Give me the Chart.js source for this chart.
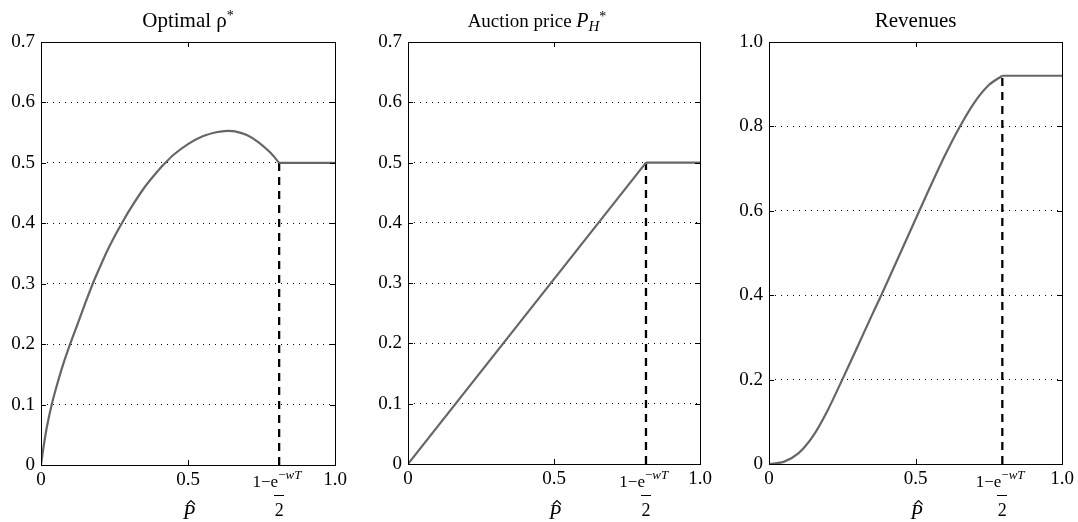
<!DOCTYPE html>
<html>
<head>
<meta charset="utf-8">
<script src="https://cdn.jsdelivr.net/npm/chart.js@4.4.1/dist/chart.umd.min.js"></script>
<style>
body { margin: 0; background: #fff; width: 1078px; height: 522px; position: relative; overflow: hidden; }
canvas { position: absolute; top: 0; }
</style>
</head>
<body>
<canvas id="c1" width="360" height="522" style="left:0px"></canvas>
<canvas id="c2" width="360" height="522" style="left:360px"></canvas>
<canvas id="c3" width="358" height="522" style="left:720px"></canvas>
<script>
// panel 1 - optimal rho*
const rhoX = [0, 0.01, 0.02, 0.0365, 0.05, 0.075, 0.099, 0.125, 0.15, 0.176, 0.2, 0.225, 0.25, 0.275, 0.3, 0.35, 0.4, 0.423, 0.45, 0.5, 0.55, 0.6, 0.634, 0.66, 0.7, 0.74, 0.78, 0.81];
const rhoY = [0, 0.034, 0.063, 0.1, 0.125, 0.166, 0.2, 0.234, 0.267, 0.3, 0.327, 0.354, 0.378, 0.4, 0.421, 0.458, 0.488, 0.5, 0.513, 0.531, 0.544, 0.551, 0.553, 0.552, 0.546, 0.534, 0.517, 0.5];
const rhoKnee = 0.81;
const rhoFlat = 0.5;

// panel 2 - auction price
const priceX = [0, 0.815];
const priceY = [0, 0.5];
const priceKnee = 0.815;
const priceFlat = 0.5;

// panel 3 - revenues
const revX = [0, 0.05, 0.1, 0.15, 0.2, 0.25, 0.3, 0.35, 0.383, 0.45, 0.513, 0.55, 0.6, 0.649, 0.7, 0.75, 0.796];
const revY = [0, 0.005, 0.025, 0.066, 0.127, 0.2, 0.275, 0.351, 0.4, 0.503, 0.6, 0.657, 0.731, 0.797, 0.856, 0.898, 0.92];
const revKnee = 0.796;
const revFlat = 0.92;

const xTicks = [0, 0.5, 1.0];
const yTicksA = [0, 0.1, 0.2, 0.3, 0.4, 0.5, 0.6, 0.7];
const yTicksB = [0, 0.2, 0.4, 0.6, 0.8, 1.0];

const SERIF = '"Liberation Serif", "DejaVu Serif", serif';

function drawRich(ctx, segs, cx, y) {
  let w = 0;
  segs.forEach(s => { ctx.font = s.font; s.w = ctx.measureText(s.t).width; w += s.w; });
  let x = cx - w / 2;
  ctx.textAlign = 'left';
  ctx.textBaseline = 'alphabetic';
  segs.forEach(s => { ctx.font = s.font; ctx.fillText(s.t, x, y + (s.dy || 0)); x += s.w; });
}

function toPts(xs, ys) {
  return xs.map((x, i) => ({ x: x, y: ys[i] }));
}

function makePanel(id, cfg) {
  const deco = {
    id: 'deco',
    afterDraw(chart) {
      const ctx = chart.ctx;
      const a = chart.chartArea;
      const xs = chart.scales.x, ys = chart.scales.y;
      ctx.save();
      ctx.strokeStyle = '#000';
      ctx.fillStyle = '#000';
      ctx.lineWidth = 1;
      ctx.strokeRect(Math.round(a.left) + 0.5, Math.round(a.top) + 0.5, Math.round(a.right - a.left), Math.round(a.bottom - a.top));
      // inward tick marks on all four sides
      ctx.beginPath();
      xTicks.forEach(v => {
        const px = Math.round(xs.getPixelForValue(v)) + 0.5;
        ctx.moveTo(px, a.bottom); ctx.lineTo(px, a.bottom - 5);
        ctx.moveTo(px, a.top); ctx.lineTo(px, a.top + 5);
      });
      cfg.yTicks.forEach(v => {
        const py = Math.round(ys.getPixelForValue(v)) + 0.5;
        ctx.moveTo(a.left, py); ctx.lineTo(a.left + 5, py);
        ctx.moveTo(a.right, py); ctx.lineTo(a.right - 5, py);
      });
      ctx.stroke();

      // title
      drawRich(ctx, cfg.title, (a.left + a.right) / 2 + (cfg.titleShift || 0), 27);

      // x label P hat
      const cx = xs.getPixelForValue(0.5) + 1;
      ctx.font = 'italic 20px ' + SERIF;
      ctx.textAlign = 'center';
      ctx.fillText('P', cx, 519);
      ctx.beginPath();
      ctx.lineWidth = 1.1;
      ctx.moveTo(cx - 2, 504.5); ctx.lineTo(cx + 2, 500.5); ctx.lineTo(cx + 6, 504.5);
      ctx.stroke();

      // knee label (1 - e^{-wT}) / 2
      const kx = xs.getPixelForValue(cfg.knee);
      ctx.font = '17px ' + SERIF;
      ctx.textAlign = 'right';
      ctx.fillText('1\u2212e', kx - 1, 487);
      ctx.textAlign = 'left';
      ctx.font = '13px ' + SERIF;
      ctx.fillText('\u2212', kx - 1, 479);
      const mw = ctx.measureText('\u2212').width;
      ctx.font = 'italic 13px ' + SERIF;
      ctx.fillText('wT', kx - 1 + mw, 479);
      ctx.fillRect(Math.round(kx - 5), 495, 10, 1);
      ctx.font = '18px ' + SERIF;
      ctx.textAlign = 'center';
      ctx.fillText('2', kx, 516);
      ctx.restore();
    }
  };

  const tickFont = { family: SERIF, size: 19 };
  new Chart(document.getElementById(id), {
    type: 'scatter',
    data: {
      datasets: [
        { data: toPts(cfg.xs, cfg.ys), showLine: true, borderColor: '#666', borderWidth: 2.2, pointRadius: 0, tension: cfg.smooth ? 0.3 : 0 },
        { data: [{ x: cfg.knee, y: cfg.flat }, { x: 1, y: cfg.flat }], showLine: true, borderColor: '#666', borderWidth: 2.2, pointRadius: 0 },
        { data: [{ x: cfg.knee, y: 0 }, { x: cfg.knee, y: cfg.flat }], showLine: true, borderColor: '#000', borderWidth: 2.3, borderDash: [8, 6], pointRadius: 0 }
      ]
    },
    options: {
      responsive: false,
      animation: false,
      devicePixelRatio: 1,
      layout: { padding: { left: 0, right: cfg.padR, top: 42, bottom: 0 } },
      plugins: { legend: { display: false }, tooltip: { enabled: false }, title: { display: false } },
      scales: {
        x: {
          type: 'linear', min: 0, max: 1,
          afterFit: s => { s.height = cfg.xH; },
          afterBuildTicks: s => { s.ticks = xTicks.map(v => ({ value: v })); },
          grid: { display: false, drawTicks: false },
          border: { display: false },
          ticks: { font: tickFont, color: '#000', padding: 4, maxRotation: 0, autoSkip: false,
            callback: v => v === 0 ? '0' : v.toFixed(1) }
        },
        y: {
          type: 'linear', min: 0, max: cfg.yMax,
          afterFit: s => { s.width = cfg.yW; },
          afterBuildTicks: s => { s.ticks = cfg.yTicks.map(v => ({ value: v })); },
          grid: { color: '#000', lineWidth: 1, drawTicks: false },
          border: { display: false, dash: [1, 5] },
          ticks: { font: tickFont, color: '#000', padding: 6, autoSkip: false,
            callback: v => v === 0 ? '0' : v.toFixed(1) }
        }
      }
    },
    plugins: [deco]
  });
}

makePanel('c1', {
  xs: rhoX, ys: rhoY, knee: rhoKnee, flat: rhoFlat, smooth: true,
  yMax: 0.7, yTicks: yTicksA, yW: 41, xH: 57, padR: 25,
  title: [{ t: 'Optimal \u03c1', font: '21px ' + SERIF }, { t: '*', font: '14px ' + SERIF, dy: -7 }]
});

makePanel('c2', {
  xs: priceX, ys: priceY, knee: priceKnee, flat: priceFlat, smooth: false,
  yMax: 0.7, yTicks: yTicksA, yW: 48, xH: 58, padR: 20, titleShift: -17,
  title: [{ t: 'Auction price ', font: '19px ' + SERIF }, { t: 'P', font: 'italic 20px ' + SERIF },
    { t: 'H', font: 'italic 15px ' + SERIF, dy: 4 }, { t: '*', font: '14px ' + SERIF, dy: -6 }]
});

makePanel('c3', {
  xs: revX, ys: revY, knee: revKnee, flat: revFlat, smooth: true,
  yMax: 1.0, yTicks: yTicksB, yW: 49, xH: 58, padR: 15,
  title: [{ t: 'Revenues', font: '21px ' + SERIF }]
});
</script>
</body>
</html>
